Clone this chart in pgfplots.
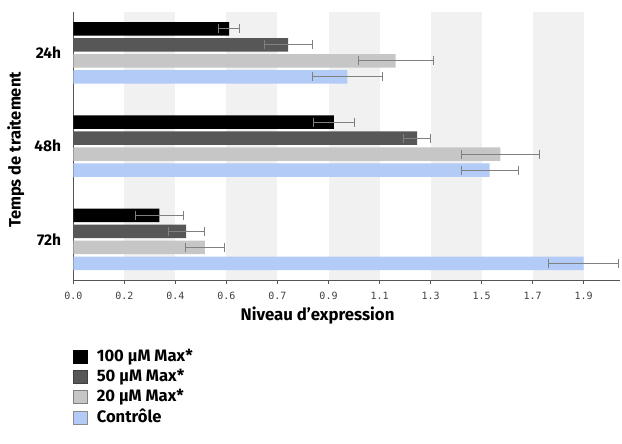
\documentclass[border=0pt]{standalone}
\usepackage{fontspec}
\setmainfont{Fira Sans}
\newfontfamily\tickfont{DejaVu Sans Mono}
\usepackage{pgfplots}
\pgfplotsset{compat=1.18}

\definecolor{c100}{HTML}{000000}
\definecolor{c50}{HTML}{575757}
\definecolor{c20}{HTML}{C6C6C6}
\definecolor{cctl}{HTML}{B3CBF7}
\definecolor{stripe}{HTML}{F1F1F1}
\definecolor{errgray}{HTML}{808080}
\definecolor{axisgray}{HTML}{555555}

\begin{document}
\begin{tikzpicture}
\path[use as bounding box] (-73.3pt,-164pt) rectangle (548.7pt,280pt);
\begin{axis}[
  at={(0pt,0pt)}, anchor=south west,
  scale only axis, width=546.7pt, height=267.7pt,
  xbar, bar width=13.5pt,
  xmin=0, xmax=2.035, ymin=-0.434, ymax=2.434, y dir=reverse,
  axis x line*=bottom, axis y line*=left,
  axis line style={draw=axisgray, line width=0.8pt, -},
  ytick={0,1,2}, yticklabels={24h,48h,72h},
  ytick style={draw=none},
  yticklabel style={font=\bfseries\fontsize{15.5}{17}\selectfont, inner sep=0pt, xshift=-8pt},
  xtick={0,0.19,0.38,0.57,0.76,0.95,1.14,1.33,1.52,1.71,1.9},
  xticklabels={0.0,0.2,0.4,0.6,0.7,0.9,1.1,1.3,1.5,1.7,1.9},
  tick align=outside, major tick length=4pt,
  xtick style={draw=axisgray, line width=0.8pt},
  xticklabel style={font=\tickfont\fontsize{10}{12}\selectfont, text=black!75, inner sep=0pt, yshift=-8pt},
  xlabel={Niveau d’expression},
  xlabel style={at={(axis description cs:0.4468,-0.1335)}, anchor=center, font=\bfseries\fontsize{16.8}{18}\selectfont},
  error bars/x dir=both, error bars/x explicit,
  error bars/error bar style={draw=errgray, line width=0.75pt},
  error bars/error mark options={draw=errgray, line width=0.75pt, mark size=4.5pt, rotate=90},
  legend style={at={(axis description cs:0,-0.254)}, anchor=north west, draw=none, fill=none,
    font=\bfseries\fontsize{16.6}{19}\selectfont, inner sep=0pt, row sep=3.8pt,
    nodes={inner sep=0pt, text height=13pt, text depth=3.5pt},
    /tikz/every odd column/.append style={column sep=9.4pt}},
  legend cell align=left,
]
% alternating background bands
\fill[stripe] (axis cs:0.19,-0.434) rectangle (axis cs:0.38,2.434);
\fill[stripe] (axis cs:0.57,-0.434) rectangle (axis cs:0.76,2.434);
\fill[stripe] (axis cs:0.95,-0.434) rectangle (axis cs:1.14,2.434);
\fill[stripe] (axis cs:1.33,-0.434) rectangle (axis cs:1.52,2.434);
\fill[stripe] (axis cs:1.71,-0.434) rectangle (axis cs:1.90,2.434);

% 100 uM
\addplot[fill=c100, draw=none, bar shift=24pt,
  legend image code/.code={\draw[fill=c100, draw=black] (0pt,-6.5pt) rectangle (13.5pt,6.5pt);}]
  coordinates {(0.58,0) +- (0.04,0) (0.97,1) +- (0.075,0) (0.32,2) +- (0.09,0)};
% 50 uM
\addplot[fill=c50, draw=none, bar shift=8pt,
  legend image code/.code={\draw[fill=c50, draw=black!75] (0pt,-6.5pt) rectangle (13.5pt,6.5pt);}]
  coordinates {(0.80,0) +- (0.09,0) (1.28,1) +- (0.05,0) (0.42,2) +- (0.067,0)};
% 20 uM
\addplot[fill=c20, draw=none, bar shift=-8pt,
  legend image code/.code={\draw[fill=c20, draw=black!50] (0pt,-6.5pt) rectangle (13.5pt,6.5pt);}]
  coordinates {(1.20,0) +- (0.14,0) (1.59,1) +- (0.146,0) (0.49,2) +- (0.072,0)};
% control
\addplot[fill=cctl, draw=none, bar shift=-24pt,
  legend image code/.code={\draw[fill=cctl, draw=black!45] (0pt,-6.5pt) rectangle (13.5pt,6.5pt);}]
  coordinates {(1.02,0) +- (0.13,0) (1.55,1) +- (0.107,0) (1.90,2) +- (0.13,0)};

\legend{100 µM Max*, 50 µM Max*, 20 µM Max*, Contrôle}
\end{axis}
% axis title on the category side
\node[rotate=90, anchor=center, inner sep=0pt, font=\bfseries\fontsize{16.5}{18}\selectfont]
  at (-57.5pt,130pt) {Temps de traitement};
\end{tikzpicture}
\end{document}
